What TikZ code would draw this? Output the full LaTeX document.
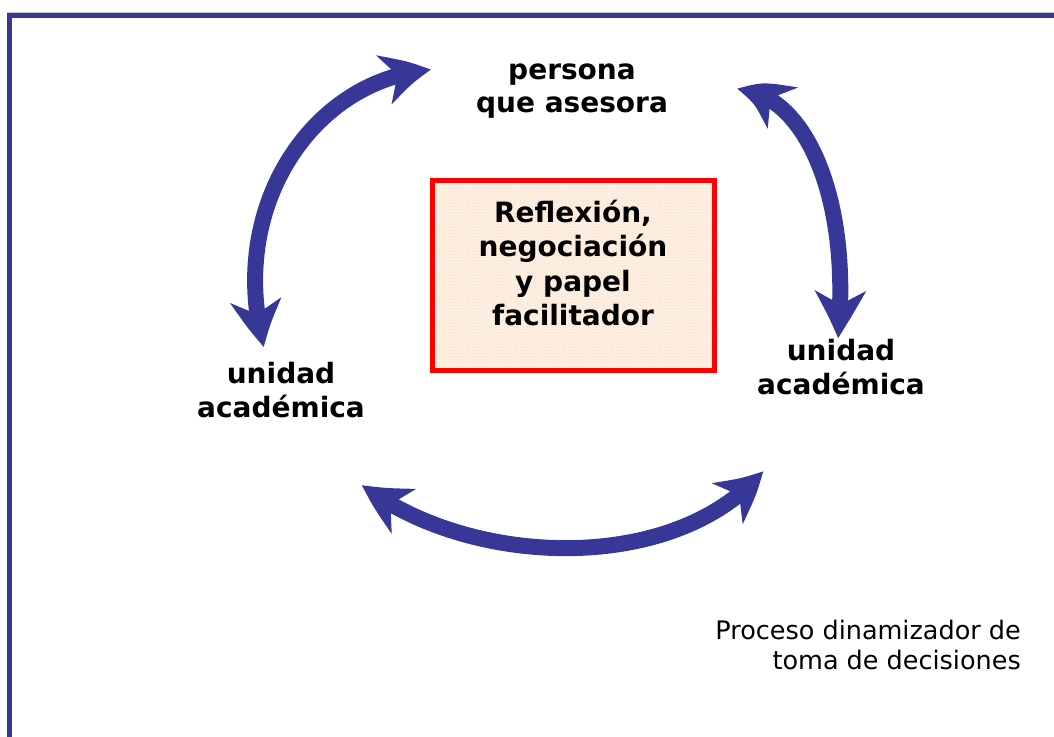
\documentclass[tikz,border=0pt]{standalone}
\usepackage{fontspec}
\setmainfont{DejaVu Sans}
\usetikzlibrary{arrows.meta,bending,patterns}
\definecolor{navy}{RGB}{54,55,150}
\definecolor{peach}{RGB}{253,241,230}
\definecolor{speck}{RGB}{249,218,186}
\tikzset{
  bigtip/.tip={Stealth[length=48pt,width=50pt,inset=14pt,bend]},
  bigarrow/.style={line width=16pt, draw=navy, bigtip-bigtip},
  lbl/.style={font=\fontsize{28}{33.5}\selectfont\bfseries, align=center, inner sep=0pt},
  centerbox/.style={fill=peach, outer sep=0pt,
    postaction={pattern=crosshatch dots, pattern color=speck},
    minimum width=282pt, minimum height=190pt},
  boxedge/.style={draw=red, line width=5pt},
  boxtext/.style={font=\fontsize{28}{34.6}\selectfont\bfseries, align=center, inner sep=0pt},
  note/.style={font=\fontsize{25.5}{30}\selectfont, align=right, inner sep=0pt, anchor=east}
}
\begin{document}
\begin{tikzpicture}[x=1pt,y=-1pt]
\useasboundingbox (0,0) rectangle (1054,736);
\begin{scope}
\clip (0,0) rectangle (1054,736);
\draw[gray!45, line width=0.8pt] (7,12.4) -- (1060,12.4);
\draw[navy, line width=4.8pt] (9.8,760) -- (9.8,15.2) -- (1070,15.2);
\end{scope}

\node[centerbox] (box) at (573,275) {};
\draw[boxedge] (box.north west) rectangle (box.south east);
\node[boxtext] (boxlbl) at (573,263) {Reflexión,\\negociación\\y papel\\facilitador};

\node[lbl] (top) at (572,91) {persona\\que asesora};
\node[lbl] (left) at (281,390) {unidad\\académica};
\node[lbl] (right) at (841,367) {unidad\\académica};

\node[note] (note) at (1021,644.5) {Proceso dinamizador de\\toma de decisiones};

\coordinate (la) at (264,347);
\coordinate (lb) at (431,70);
\coordinate (ra) at (737,90);
\coordinate (rb) at (838,338);
\coordinate (ba) at (362,485);
\coordinate (bb) at (763,471);

\draw[bigarrow] (la) .. controls (226,205) and (315,78) .. (lb);
\draw[bigarrow] (ra) .. controls (800,90) and (852,190) .. (rb);
\draw[bigarrow] (ba) .. controls (470,568) and (675,575) .. (bb);
\end{tikzpicture}
\end{document}
